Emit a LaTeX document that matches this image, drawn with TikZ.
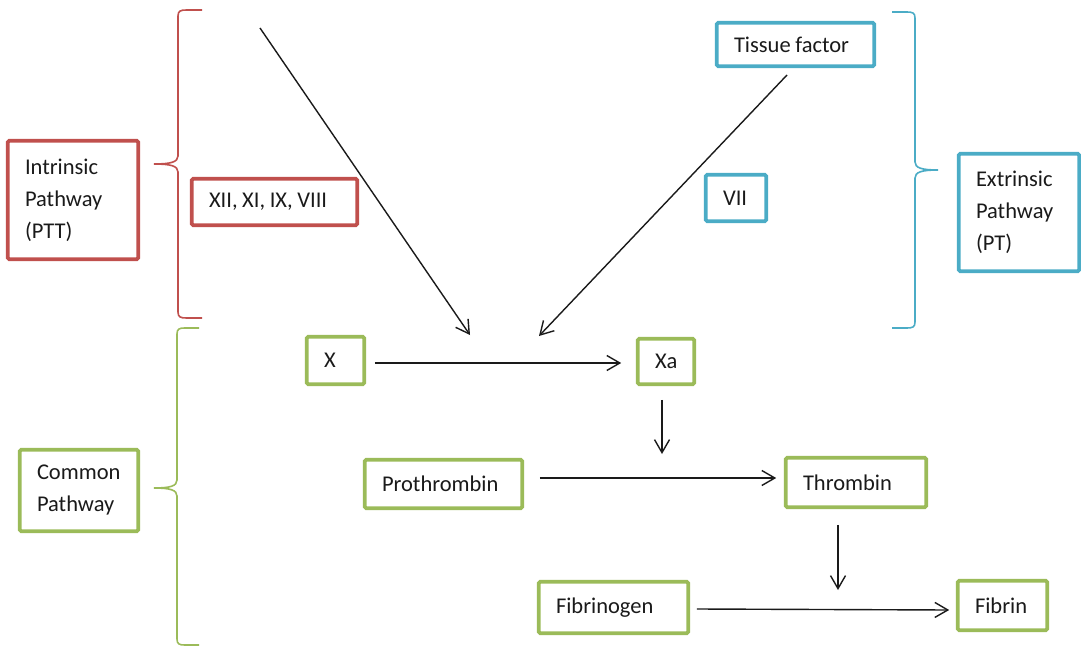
\documentclass[tikz,border=0pt]{standalone}
\usepackage{fontspec}
\setmainfont{Carlito}
\usetikzlibrary{arrows.meta}
\definecolor{cred}{HTML}{C0504D}
\definecolor{cblue}{HTML}{4BACC6}
\definecolor{cgreen}{HTML}{9BBB59}
\definecolor{ink}{HTML}{1A1A1A}
% #1 x of the ends, #2 x of the spine, #3 x of the tip, #4 top y, #5 tip y, #6 bottom y, #7 colour
\newcommand\curlyb[7]{%
  \draw[bracel, draw=#7] (#1,#4) -- ({#2+(#1-#2)*0.35},#4)
    .. controls ({#2+(#1-#2)*0.1},#4) and (#2,#4+1) .. (#2,#4+6)
    -- (#2,#5-8)
    .. controls (#2,#5-2) and ({#2+(#3-#2)*0.3},#5) .. (#3,#5)
    .. controls ({#2+(#3-#2)*0.3},#5) and (#2,#5+2) .. (#2,#5+8)
    -- (#2,#6-6)
    .. controls (#2,#6-1) and ({#2+(#1-#2)*0.1},#6) .. ({#2+(#1-#2)*0.35},#6)
    -- (#1,#6);}
\newcommand\nsp{\hspace{4.6pt}}
\begin{document}
\begin{tikzpicture}[x=1pt,y=-1pt,
  pbox/.style={draw, line width=3.6pt, inner xsep=17.25pt, inner ysep=0pt,
    align=left, rounded corners=1.5pt, text=ink,
    font=\fontsize{22.5}{32}\selectfont\frenchspacing},
  redb/.style={pbox, draw=cred},
  blueb/.style={pbox, draw=cblue},
  greenb/.style={pbox, draw=cgreen},
  arr/.style={draw=ink, line width=1.4pt, -{Straight Barb[length=13pt,width=15pt]}},
  bracel/.style={line width=1.6pt}]
\useasboundingbox (0,0) rectangle (1081,647);

% boxes
\node[redb, text width=96pt, minimum height=118.5pt] (intr) at (73,200) {Intrinsic\\Pathway\\(PTT)};
\node[redb, text width=131pt, minimum height=46.5pt] (xii) at (274.5,202) {XII,\nsp XI,\nsp IX,\nsp VIII};
\node[blueb, text width=123pt, minimum height=43.5pt] (tf) at (795.5,44.5) {Tissue\nsp factor};
\node[blueb, text width=26pt, minimum height=46.5pt] (vii) at (736,198) {VII};
\node[blueb, text width=86pt, minimum height=117.5pt] (extr) at (1019,212.5) {Extrinsic\\Pathway\\(PT)};
\node[greenb, text width=84pt, minimum height=81.5pt] (common) at (79,490.5) {Common\\Pathway};
\node[greenb, text width=23pt, minimum height=47.5pt] (X) at (335.5,360.5) {X};
\node[greenb, text width=22pt, minimum height=45.5pt] (Xa) at (666,361.5) {Xa};
\node[greenb, text width=123pt, minimum height=48.5pt] (proth) at (443.5,484) {Prothrombin};
\node[greenb, text width=106pt, minimum height=49.5pt] (thromb) at (856,482.5) {Thrombin};
\node[greenb, text width=115pt, minimum height=51.5pt] (fibg) at (613.5,607.5) {Fibrinogen};
\node[greenb, text width=55pt, minimum height=49.5pt] (fib) at (1002.5,605.5) {Fibrin};

% braces
\curlyb{202}{178}{154}{10}{164}{318}{cred}
\curlyb{892}{915}{938}{12}{170}{328}{cblue}
\curlyb{199}{177}{154}{328}{488}{645}{cgreen}

% free ends of connectors
\coordinate (i0) at (260,28);
\coordinate (i1) at (470,335);
\coordinate (e0) at (787,75);
\coordinate (e1) at (539,336);
\coordinate (xaend) at (662,454);
\coordinate (thend) at (838,590);

% connectors
\draw[arr] (i0) -- (i1);
\draw[arr] (e0) -- (e1);
\draw[arr] ([xshift=8.75pt,yshift=-2.5pt]X.east) -- ([xshift=-14.75pt,yshift=-1.5pt]Xa.west);
\draw[arr] ([xshift=-4pt,yshift=-13.75pt]Xa.south) -- (xaend);
\draw[arr] ([xshift=15.75pt,yshift=6pt]proth.east) -- ([xshift=-7.75pt,yshift=4.5pt]thromb.west);
\draw[arr] ([xshift=-18pt,yshift=-15.75pt]thromb.south) -- (thend);
\draw[arr] ([xshift=6.75pt,yshift=-1.5pt]fibg.east) -- ([xshift=-6.75pt,yshift=-4.5pt]fib.west);
\end{tikzpicture}
\end{document}
